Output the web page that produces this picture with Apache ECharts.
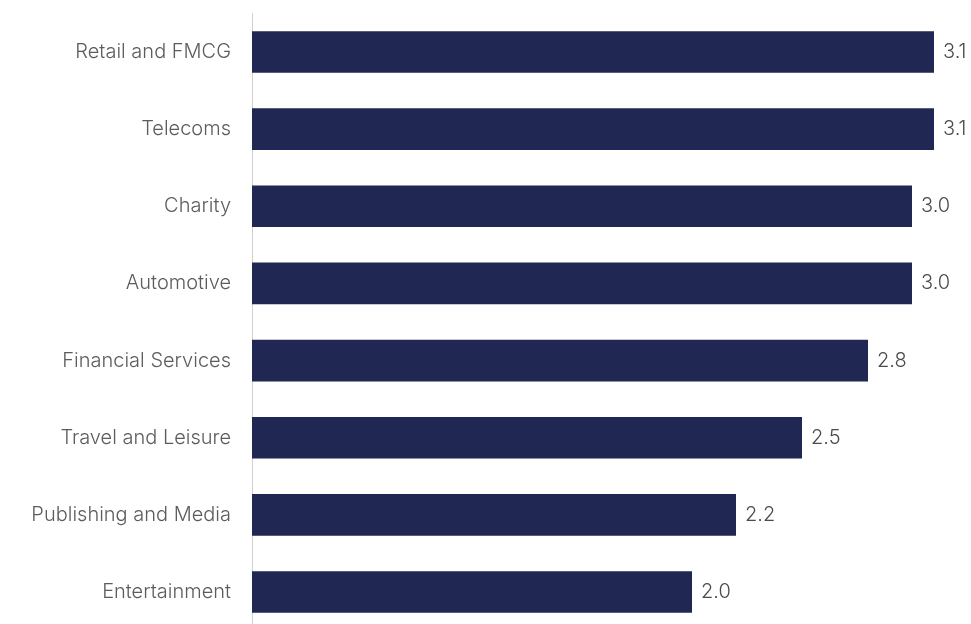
<!DOCTYPE html>
<html>
<head>
<meta charset="utf-8">
<script src="https://cdn.jsdelivr.net/npm/echarts@6/dist/echarts.min.js"></script>
<style>
  html, body { margin: 0; padding: 0; background: #ffffff; }
  #chart { width: 971px; height: 624px; }
</style>
</head>
<body>
<div id="chart"></div>
<script>
// Sectors, top to bottom
const sectors = [
  'Retail and FMCG',
  'Telecoms',
  'Charity',
  'Automotive',
  'Financial Services',
  'Travel and Leisure',
  'Publishing and Media',
  'Entertainment'
];
// Average score per sector
const scores = [3.1, 3.1, 3.0, 3.0, 2.8, 2.5, 2.2, 2.0];

const chart = echarts.init(document.getElementById('chart'), null, { renderer: 'canvas' });
const FONT = 'Inter, sans-serif';

chart.setOption({
  animation: false,
  backgroundColor: '#ffffff',
  grid: {
    left: 252, top: 13.4, width: 704, height: 617.2,
    outerBoundsMode: 'none', containLabel: false
  },
  xAxis: {
    type: 'value',
    min: 0,
    max: 3.2,
    show: false
  },
  yAxis: {
    type: 'category',
    data: sectors,
    inverse: true,
    axisLine: { show: true, lineStyle: { color: '#d0d0d0', width: 1 } },
    axisTick: { show: false },
    axisLabel: {
      color: '#5c5c5c',
      fontSize: 20,
      fontWeight: 300,
      fontFamily: FONT,
      margin: 21
    }
  },
  series: [{
    type: 'bar',
    data: scores,
    barWidth: '54%',
    itemStyle: { color: '#1f2752' },
    label: {
      show: true,
      position: 'right',
      distance: 9,
      color: '#4a4a4a',
      fontSize: 20,
      fontWeight: 300,
      fontFamily: FONT,
      formatter: p => p.value.toFixed(1)
    }
  }]
});
</script>
</body>
</html>
